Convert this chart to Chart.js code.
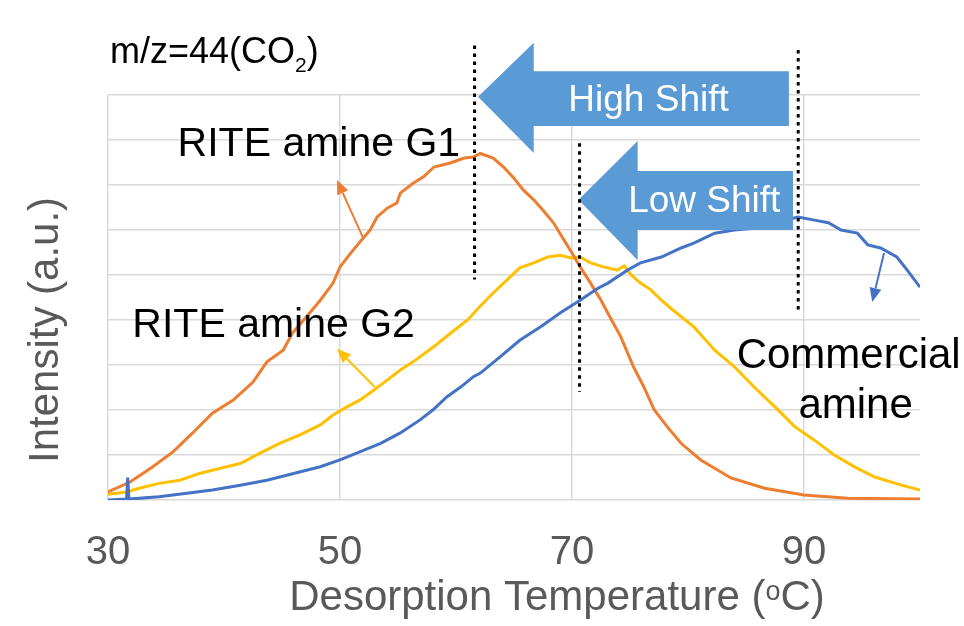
<!DOCTYPE html>
<html>
<head>
<meta charset="utf-8">
<title>m/z=44(CO2) desorption profiles</title>
<script src="https://cdn.jsdelivr.net/npm/chart.js@4.4.1/dist/chart.umd.min.js"></script>
<style>
  html, body { margin: 0; padding: 0; background: #fff; }
  #chart { display: block; }
</style>
</head>
<body>
<canvas id="chart" width="964" height="626"></canvas>
<script>
// x axis (desorption temperature, oC) and y axis (intensity, a.u.)
const xMin = 30;
const xMax = 100;
const xTicks = [30, 50, 70, 90];
const yMin = 0;
const yMax = 9;

// RITE amine G1 (orange)
const g1Temp = [30, 31.9, 33.8, 35.6, 37.3, 39.0, 40.8, 42.5, 43.7, 45.1, 45.9, 47.2, 48.3, 49.4, 50.0, 50.9,
  52.0, 52.6, 53.2, 54.1, 54.9, 55.2, 56.3, 57.2, 58.1, 59.5, 60.7, 61.5, 62.1, 63.2, 64.1, 64.9, 65.8,
  66.7, 67.5, 68.4, 69.3, 70.0, 70.7, 71.6, 72.5, 73.2, 74.2, 75.3, 76.2, 77.1, 78.2, 79.4, 81.1, 83.7,
  86.6, 90.0, 93.8, 100];
const g1Intensity = [0.18, 0.40, 0.73, 1.07, 1.49, 1.93, 2.22, 2.62, 3.07, 3.33, 3.71, 4.10, 4.44, 4.82, 5.18, 5.48,
  5.82, 6.00, 6.29, 6.49, 6.60, 6.82, 7.04, 7.18, 7.40, 7.49, 7.60, 7.62, 7.70, 7.60, 7.40, 7.18, 6.89,
  6.67, 6.44, 6.16, 5.78, 5.49, 5.18, 4.82, 4.44, 4.10, 3.63, 2.96, 2.51, 2.00, 1.63, 1.26, 0.89, 0.49,
  0.26, 0.11, 0.04, 0.02];

// RITE amine G2 (yellow)
const g2Temp = [30, 31.6, 32.7, 34.4, 36.2, 37.9, 39.6, 41.4, 43.1, 44.8, 46.5, 48.3, 49.4, 50.6, 51.7, 52.9,
  54.1, 55.2, 56.3, 58.1, 59.5, 61.0, 62.1, 63.2, 64.4, 65.5, 66.7, 67.9, 69.0, 69.9, 70.7, 71.6, 72.7,
  73.9, 74.5, 75.1, 75.9, 76.8, 77.7, 78.8, 80.5, 82.3, 84.0, 85.7, 87.5, 89.2, 90.9, 92.6, 94.4, 96.1,
  98.4, 100];
const g2Intensity = [0.13, 0.18, 0.26, 0.37, 0.44, 0.59, 0.70, 0.81, 1.04, 1.26, 1.44, 1.67, 1.89, 2.07, 2.22, 2.44,
  2.67, 2.89, 3.07, 3.41, 3.70, 4.00, 4.31, 4.60, 4.89, 5.16, 5.27, 5.40, 5.44, 5.38, 5.40, 5.27, 5.18,
  5.11, 5.20, 5.00, 4.82, 4.67, 4.44, 4.20, 3.85, 3.33, 2.96, 2.51, 2.07, 1.63, 1.33, 1.00, 0.73, 0.51,
  0.33, 0.22];

// Commercial amine (blue)
const comTemp = [30, 31.6, 31.7, 31.8, 34.4, 36.8, 39.0, 41.4, 43.7, 46.0, 48.3, 50.0, 51.7, 53.5, 55.2, 56.9,
  58.0, 59.2, 60.4, 61.5, 62.1, 63.8, 65.5, 67.3, 69.0, 70.7, 72.2, 73.1, 74.8, 75.9, 77.7, 79.4, 80.5,
  82.3, 84.0, 85.7, 88.0, 89.5, 90.9, 92.1, 93.2, 94.6, 95.5, 96.6, 98.0, 98.9, 100];
const comIntensity = [0.00, 0.02, 0.50, 0.02, 0.07, 0.15, 0.22, 0.33, 0.44, 0.59, 0.74, 0.89, 1.07, 1.26, 1.49, 1.78,
  2.00, 2.29, 2.51, 2.74, 2.82, 3.18, 3.55, 3.85, 4.16, 4.44, 4.70, 4.82, 5.11, 5.27, 5.40, 5.60, 5.71,
  5.93, 6.00, 6.04, 6.20, 6.29, 6.22, 6.16, 6.00, 5.93, 5.67, 5.60, 5.40, 5.11, 4.73];

const FONT = "'Liberation Sans', Arial, sans-serif";
const AXIS_GREY = "#595959";

function toPoints(xs, ys) {
    return xs.map((x, i) => ({ x: x, y: ys[i] }));
}

// annotations, all in data units
const dottedLines = [
    { x: 61.6, from: 10.1, to: 4.9 },
    { x: 70.65, from: 7.93, to: 2.4 },
    { x: 89.5, from: 10.0, to: 4.18 }
];

const shiftArrows = [
    { label: "High Shift", tip: [61.9, 8.96], headX: 66.7, headTop: 10.16, headBottom: 7.71,
      shaftTop: 9.53, shaftBottom: 8.31, endX: 88.7, text: [76.6, 8.91] },
    { label: "Low Shift", tip: [70.56, 6.67], headX: 75.66, headTop: 7.98, headBottom: 5.33,
      shaftTop: 7.31, shaftBottom: 6.0, endX: 89.05, text: [81.4, 6.67] }
];

const pointerArrows = [
    { color: "#ED7D31", from: [52.0, 5.82], to: [49.74, 7.11] },
    { color: "#FFC000", from: [53.0, 2.51], to: [49.74, 3.36] },
    { color: "#4472C4", from: [96.9, 5.49], to: [95.88, 4.4] }
];

const seriesLabels = [
    { text: "RITE amine G1", x: 36.0, y: 7.64, align: "left", size: 41 },
    { text: "RITE amine G2", x: 32.1, y: 3.62, align: "left", size: 41 },
    { text: "Commercial", x: 93.85, y: 2.93, align: "center", size: 42 },
    { text: "amine", x: 94.45, y: 1.82, align: "center", size: 42 }
];

const decorPlugin = {
    id: "decor",
    afterDatasetsDraw(chart) {
        const ctx = chart.ctx;
        const sx = chart.scales.x, sy = chart.scales.y;
        const X = v => sx.getPixelForValue(v);
        const Y = v => sy.getPixelForValue(v);
        ctx.save();

        // small pointer arrows
        pointerArrows.forEach(a => {
            const x1 = X(a.from[0]), y1 = Y(a.from[1]);
            const x2 = X(a.to[0]), y2 = Y(a.to[1]);
            const ang = Math.atan2(y2 - y1, x2 - x1);
            const hl = 14, hw = 6;
            const bx = x2 - hl * Math.cos(ang), by = y2 - hl * Math.sin(ang);
            ctx.strokeStyle = a.color;
            ctx.fillStyle = a.color;
            ctx.lineWidth = 2;
            ctx.beginPath();
            ctx.moveTo(x1, y1);
            ctx.lineTo(bx, by);
            ctx.stroke();
            ctx.beginPath();
            ctx.moveTo(x2, y2);
            ctx.lineTo(bx + hw * Math.sin(ang), by - hw * Math.cos(ang));
            ctx.lineTo(bx - hw * Math.sin(ang), by + hw * Math.cos(ang));
            ctx.closePath();
            ctx.fill();
        });

        // big block arrows
        shiftArrows.forEach(a => {
            ctx.fillStyle = "#5B9BD5";
            ctx.beginPath();
            ctx.moveTo(X(a.tip[0]), Y(a.tip[1]));
            ctx.lineTo(X(a.headX), Y(a.headTop));
            ctx.lineTo(X(a.headX), Y(a.shaftTop));
            ctx.lineTo(X(a.endX), Y(a.shaftTop));
            ctx.lineTo(X(a.endX), Y(a.shaftBottom));
            ctx.lineTo(X(a.headX), Y(a.shaftBottom));
            ctx.lineTo(X(a.headX), Y(a.headBottom));
            ctx.closePath();
            ctx.fill();
            ctx.fillStyle = "#ffffff";
            ctx.font = "37px " + FONT;
            ctx.textAlign = "center";
            ctx.textBaseline = "middle";
            ctx.fillText(a.label, X(a.text[0]), Y(a.text[1]) + 2);
        });

        // dotted markers
        ctx.strokeStyle = "#000000";
        ctx.lineWidth = 3;
        ctx.setLineDash([3.5, 4.5]);
        dottedLines.forEach(d => {
            ctx.beginPath();
            ctx.moveTo(X(d.x), Y(d.from));
            ctx.lineTo(X(d.x), Y(d.to));
            ctx.stroke();
        });
        ctx.setLineDash([]);

        // series labels
        ctx.fillStyle = "#000000";
        ctx.textBaseline = "alphabetic";
        seriesLabels.forEach(l => {
            ctx.font = l.size + "px " + FONT;
            ctx.textAlign = l.align;
            ctx.fillText(l.text, X(l.x), Y(l.y));
        });
        ctx.restore();
    },
    afterDraw(chart) {
        const ctx = chart.ctx;
        const area = chart.chartArea;
        ctx.save();
        ctx.textBaseline = "alphabetic";
        ctx.textAlign = "left";

        // m/z=44(CO2)
        let x = area.left + 2;
        const base = 63;
        ctx.fillStyle = "#000000";
        ctx.font = "36px " + FONT;
        ctx.fillText("m/z=44(CO", x, base);
        x += ctx.measureText("m/z=44(CO").width;
        ctx.font = "21px " + FONT;
        ctx.fillText("2", x, base + 9);
        x += ctx.measureText("2").width;
        ctx.font = "36px " + FONT;
        ctx.fillText(")", x, base);

        // x axis title with superscript o
        ctx.fillStyle = AXIS_GREY;
        const p1 = "Desorption Temperature (", p2 = "o", p3 = "C)";
        ctx.font = "42px " + FONT;
        const w1 = ctx.measureText(p1).width, w3 = ctx.measureText(p3).width;
        ctx.font = "27px " + FONT;
        const w2 = ctx.measureText(p2).width;
        const xb = 610;
        x = 557 - (w1 + w2 + w3) / 2;
        ctx.font = "42px " + FONT;
        ctx.fillText(p1, x, xb);
        x += w1;
        ctx.font = "27px " + FONT;
        ctx.fillText(p2, x, xb - 10);
        x += w2;
        ctx.font = "42px " + FONT;
        ctx.fillText(p3, x, xb);

        // y axis title
        ctx.translate(58, 463);
        ctx.rotate(-Math.PI / 2);
        ctx.font = "42px " + FONT;
        ctx.fillText("Intensity (a.u.)", 0, 0);
        ctx.restore();
    }
};

const ctx = document.getElementById("chart").getContext("2d");

const commonLine = {
    borderWidth: 3,
    pointRadius: 0,
    tension: 0,
    fill: false
};

new Chart(ctx, {
    type: "line",
    data: {
        datasets: [
            Object.assign({ label: "Commercial amine", data: toPoints(comTemp, comIntensity), borderColor: "#4472C4" }, commonLine),
            Object.assign({ label: "RITE amine G1", data: toPoints(g1Temp, g1Intensity), borderColor: "#ED7D31" }, commonLine),
            Object.assign({ label: "RITE amine G2", data: toPoints(g2Temp, g2Intensity), borderColor: "#FFC000" }, commonLine)
        ]
    },
    options: {
        responsive: false,
        devicePixelRatio: 1,
        animation: false,
        layout: { padding: { top: 95, right: 44, left: 0, bottom: 0 } },
        plugins: {
            legend: { display: false },
            tooltip: { enabled: false }
        },
        scales: {
            x: {
                type: "linear",
                min: xMin,
                max: xMax,
                afterBuildTicks: s => { s.ticks = xTicks.map(v => ({ value: v })); },
                afterFit: s => { s.height = 126; s.paddingLeft = 0; s.paddingRight = 0; },
                border: { display: false },
                grid: { color: "#D9D9D9", lineWidth: 1.5, drawTicks: false },
                ticks: {
                    maxRotation: 0,
                    autoSkip: false,
                    padding: 29,
                    color: AXIS_GREY,
                    font: { family: FONT, size: 40 }
                }
            },
            y: {
                min: yMin,
                max: yMax,
                afterFit: s => { s.width = 108; },
                border: { display: false },
                grid: { color: "#D9D9D9", lineWidth: 1.5, drawTicks: false },
                ticks: { stepSize: 1, display: false }
            }
        }
    },
    plugins: [decorPlugin]
});
</script>
</body>
</html>
